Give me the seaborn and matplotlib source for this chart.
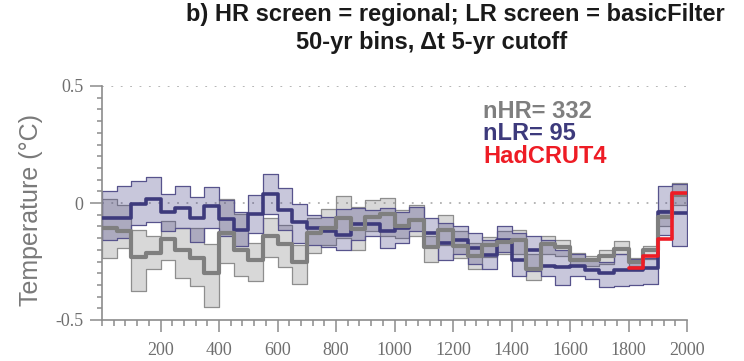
import numpy as np
import pandas as pd
import matplotlib
matplotlib.use("Agg")
import matplotlib.pyplot as plt
from matplotlib.ticker import MultipleLocator, FixedLocator
import seaborn as sns

# 50-year bin edges (years CE)
bin_edges = list(range(0, 2001, 50))

# Low-resolution composite: mean and band per bin
lr_mean = [-0.063, -0.063, -0.003, 0.017, -0.040, -0.022, -0.063, -0.014, -0.068, -0.115,
           -0.045, 0.040, -0.030, -0.080, -0.108, -0.118, -0.135, -0.088, -0.090, -0.121,
           -0.105, -0.071, -0.128, -0.171, -0.160, -0.192, -0.221, -0.160, -0.242, -0.200,
           -0.270, -0.273, -0.270, -0.285, -0.300, -0.288, -0.285, -0.278, -0.040, -0.043]
lr_hi = [0.053, 0.074, 0.093, 0.111, 0.038, 0.071, 0.026, 0.068, 0.012, -0.040,
         0.036, 0.126, 0.064, -0.004, -0.050, -0.060, -0.025, -0.020, -0.030, -0.020,
         -0.040, -0.015, -0.064, -0.085, -0.097, -0.128, -0.160, -0.097, -0.130, -0.142,
         -0.160, -0.200, -0.220, -0.240, -0.250, -0.220, -0.240, -0.235, 0.071, 0.080]
lr_lo = [-0.160, -0.150, -0.093, -0.083, -0.121, -0.107, -0.168, -0.107, -0.140, -0.185,
         -0.127, -0.045, -0.115, -0.170, -0.178, -0.190, -0.200, -0.160, -0.140, -0.192,
         -0.170, -0.120, -0.190, -0.242, -0.220, -0.260, -0.282, -0.210, -0.310, -0.290,
         -0.310, -0.350, -0.313, -0.325, -0.359, -0.353, -0.350, -0.345, -0.135, -0.183]

# High-resolution composite: mean and band per bin
hr_mean = [-0.105, -0.120, -0.230, -0.212, -0.155, -0.200, -0.235, -0.298, -0.127, -0.200,
           -0.245, -0.140, -0.177, -0.253, -0.127, -0.108, -0.066, -0.109, -0.060, -0.045,
           -0.100, -0.073, -0.188, -0.114, -0.182, -0.225, -0.178, -0.166, -0.160, -0.280,
           -0.175, -0.190, -0.242, -0.242, -0.225, -0.195, -0.252, -0.200, -0.060, 0.035]
hr_hi = [0.017, -0.010, -0.114, -0.140, -0.078, -0.107, -0.107, -0.174, 0.015, -0.045,
         -0.172, -0.062, -0.095, -0.180, -0.064, -0.026, 0.028, -0.015, 0.011, 0.021,
         -0.030, -0.010, -0.142, -0.050, -0.120, -0.170, -0.147, -0.120, -0.117, -0.220,
         -0.140, -0.157, -0.215, -0.225, -0.202, -0.161, -0.235, -0.182, -0.028, 0.085]
hr_lo = [-0.235, -0.192, -0.377, -0.282, -0.242, -0.320, -0.356, -0.444, -0.255, -0.310,
         -0.335, -0.230, -0.272, -0.345, -0.215, -0.180, -0.150, -0.200, -0.120, -0.140,
         -0.150, -0.140, -0.254, -0.180, -0.235, -0.282, -0.230, -0.220, -0.220, -0.328,
         -0.220, -0.228, -0.270, -0.268, -0.260, -0.220, -0.270, -0.240, -0.100, -0.010]

# Instrumental record binned the same way
had_edges = [1800, 1850, 1900, 1950, 2000]
had_mean = [-0.278, -0.228, -0.152, 0.043]

x_tick_labels = ["200", "400", "600", "800", "1000", "1200", "1400", "1600", "1800", "2000"]
y_tick_labels = ["-0.5", "0", "0.5"]

n_hr, n_lr = 332, 95

C_LR = "#3d3a7c"
C_HR = "#7f7f7f"
C_RED = "#ee1c25"
C_AX = "#8c8c8c"

sns.set_style("ticks")
plt.rcParams["font.family"] = ["Liberation Sans", "DejaVu Sans"]


def ext(vals):
    return list(vals) + [vals[-1]]


fig = plt.figure(figsize=(7.44, 3.61), dpi=100)
W, H = 744, 361
ax = fig.add_axes([102 / W, (H - 320) / H, (687 - 102) / W, (320 - 86) / H])

# dotted reference lines
for yv in (0.5, 0.0):
    ax.axhline(yv, color="#b0b0b0", lw=1.3, ls=(0, (1, 4.2)), zorder=0)

# uncertainty bands
ax.fill_between(bin_edges, ext(hr_lo), ext(hr_hi), step="post",
                facecolor=(0.5, 0.5, 0.5, 0.30), edgecolor="#8e8e8e", linewidth=0.9, zorder=1)
ax.fill_between(bin_edges, ext(lr_lo), ext(lr_hi), step="post",
                facecolor=(0.23, 0.21, 0.50, 0.28), edgecolor="#57538c", linewidth=0.9, zorder=2)

lr_df = pd.DataFrame({"year": bin_edges, "temp": ext(lr_mean)})
hr_df = pd.DataFrame({"year": bin_edges, "temp": ext(hr_mean)})
had_df = pd.DataFrame({"year": had_edges, "temp": ext(had_mean)})

sns.lineplot(data=lr_df, x="year", y="temp", ax=ax, color=C_LR, lw=2.6,
             drawstyle="steps-post", errorbar=None, zorder=3)
sns.lineplot(data=hr_df, x="year", y="temp", ax=ax, color=C_HR, lw=3.0,
             drawstyle="steps-post", errorbar=None, zorder=4)
sns.lineplot(data=had_df, x="year", y="temp", ax=ax, color=C_RED, lw=2.6,
             drawstyle="steps-post", errorbar=None, zorder=5)

ax.set_xlim(0, 2000)
ax.set_ylim(-0.5, 0.5)
ax.set_xlabel("")
ax.set_ylabel("")

ax.xaxis.set_major_locator(FixedLocator([200 * (i + 1) for i in range(len(x_tick_labels))]))
ax.set_xticklabels(x_tick_labels)
ax.xaxis.set_minor_locator(MultipleLocator(40))
ax.yaxis.set_major_locator(FixedLocator([-0.5, 0.0, 0.5]))
ax.set_yticklabels(y_tick_labels)
ax.yaxis.set_minor_locator(MultipleLocator(0.05))

serif = ["Liberation Serif", "DejaVu Serif"]
for lab in ax.get_xticklabels() + ax.get_yticklabels():
    lab.set_fontfamily(serif)
    lab.set_fontsize(13)
    lab.set_color("#6f6f6f")

ax.tick_params(which="major", length=8.5, width=1.1, color=C_AX, direction="out")
ax.tick_params(axis="x", which="major", pad=7.5)
ax.tick_params(axis="y", which="major", pad=5)
ax.tick_params(axis="x", which="minor", length=4.3, width=1.1, color=C_AX, direction="out")
ax.tick_params(axis="y", which="minor", length=3.3, width=1.1, color=C_AX, direction="out")

sns.despine(ax=ax)
for s in ("left", "bottom"):
    ax.spines[s].set_color(C_AX)
    ax.spines[s].set_linewidth(1.2)

fig.text(31 / W, 1 - 210 / H, "Temperature (°C)", rotation=90, ha="center", va="center",
         fontsize=18, color="#7a7a7a")

fig.text(455 / W, 1 - 21 / H, "b) HR screen = regional; LR screen = basicFilter",
         ha="center", va="baseline", fontsize=17, fontweight="bold", color="#1a1a1a")
fig.text(432 / W, 1 - 49 / H, "50-yr bins, \u0394t 5-yr cutoff",
         ha="center", va="baseline", fontsize=17, fontweight="bold", color="#1a1a1a")

fig.text(483 / W, 1 - 118 / H, f"nHR= {n_hr}", ha="left", va="baseline",
         fontsize=17, fontweight="bold", color=C_HR)
fig.text(483 / W, 1 - 140 / H, f"nLR= {n_lr}", ha="left", va="baseline",
         fontsize=17, fontweight="bold", color=C_LR)
fig.text(483 / W, 1 - 163 / H, "HadCRUT4", ha="left", va="baseline",
         fontsize=17, fontweight="bold", color=C_RED)

fig.savefig("out.png", dpi=100)
